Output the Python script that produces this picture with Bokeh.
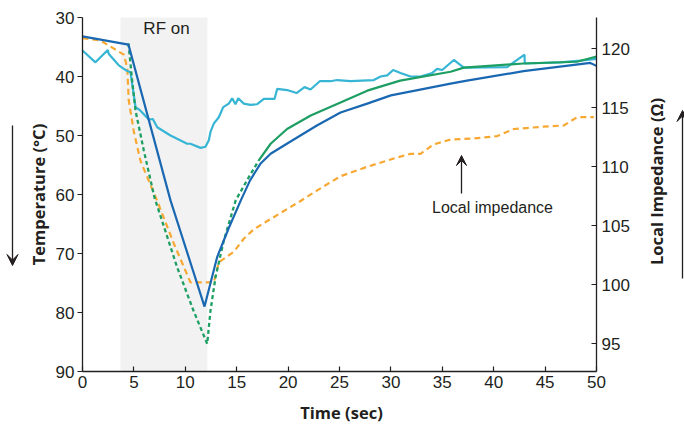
from math import pi
from bokeh.plotting import figure
from bokeh.models import Range1d, LinearAxis, FixedTicker, BoxAnnotation, Label, Arrow, VeeHead
from bokeh.embed import file_html
from bokeh.resources import INLINE

# ---- data ----
x_ticks = [0, 5, 10, 15, 20, 25, 30, 35, 40, 45, 50]
temp_ticks = [30, 40, 50, 60, 70, 80, 90]
imp_ticks = [95, 100, 105, 110, 115, 120]

rf_on_start = 3.7
rf_on_end = 12.15

blue_t = [0, 4.47, 8.56, 11.87, 13.1, 14.2, 15.4, 16.3, 17.3, 18.3, 19.6, 21.2, 22.8,
          25.1, 27.7, 30.0, 32.6, 35.8, 37.4, 42.9, 49.4, 50.0]
blue_temp = [33.2, 34.6, 61.0, 79.0, 70.6, 65.8, 61.0, 57.6, 54.8, 53.1, 51.7, 50.0, 48.3,
             46.1, 44.6, 43.2, 42.3, 41.2, 40.7, 39.1, 37.7, 38.2]

green_dash_t = [4.47, 4.83, 5.16, 5.96, 7.0, 9.2, 10.8, 12.13, 12.45, 12.94, 13.75, 14.9, 16.0, 17.15]
green_dash_temp = [34.4, 40.7, 45.8, 52.5, 60.5, 72.3, 79.7, 85.3, 79.7, 74.0, 67.8, 61.0, 57.6, 54.2]

green_t = [17.15, 18.3, 19.9, 22.2, 25.1, 27.7, 30.9, 35.8, 37.1, 42.9, 48.1, 50.0]
green_temp = [54.2, 51.4, 48.9, 46.6, 44.4, 42.4, 40.7, 39.2, 38.5, 37.8, 37.5, 36.6]

cyan_t = [0, 1.26, 2.46, 2.56, 3.53, 4.28, 4.67, 5.16, 5.64, 6.45, 6.84, 7.27, 8.56, 10.18,
          10.5, 11.48, 11.96, 12.29, 12.45, 12.77, 13.26, 13.69, 14.23, 14.56, 14.88, 15.15,
          15.69, 16.34, 16.99, 17.64, 18.68, 18.94, 19.91, 20.82, 21.6, 22.18, 23.08, 24.12,
          24.78, 26.07, 28.34, 28.99, 29.64, 30.22, 30.93, 31.91, 32.88, 34.02, 34.5, 34.99,
          36.12, 37.09, 41.31, 43.0, 43.02, 46.5, 48.4, 50.0]
cyan_temp = [35.6, 37.6, 35.5, 36.2, 38.1, 39.0, 39.3, 45.2, 45.8, 47.3, 47.2, 48.6, 50.0, 51.4,
             51.4, 52.1, 51.9, 50.8, 49.4, 48.0, 46.9, 45.2, 44.6, 43.7, 44.7, 43.7,
             44.6, 44.8, 44.7, 43.8, 43.8, 42.1, 42.3, 42.8, 41.8, 42.2, 40.8, 40.8,
             40.6, 40.8, 40.6, 40.0, 39.8, 38.9, 39.4, 40.0, 40.0, 39.4, 38.7, 38.9,
             37.2, 38.5, 38.4, 36.3, 37.8, 37.6, 37.3, 37.0]

imp_t = [0, 1.75, 4.02, 4.35, 4.5, 4.99, 5.64, 7.27, 8.88, 10.5, 12.77, 13.26, 14.72, 15.69,
         16.66, 17.97, 21.21, 22.83, 25.1, 27.69, 30.28, 31.91, 32.88, 34.17, 35.8, 38.06,
         40.34, 41.96, 44.87, 46.82, 48.12, 49.74]
imp_ohm = [120.9, 120.7, 119.5, 118.4, 115.6, 113.0, 110.5, 107.1, 103.5, 100.2, 100.2, 101.9,
           102.8, 103.9, 104.7, 105.4, 107.1, 108.0, 109.2, 110.0, 110.7, 111.1, 111.1, 111.9,
           112.3, 112.4, 112.6, 113.2, 113.4, 113.5, 114.2, 114.2]

t_min, t_max = 0, 50
temp_min, temp_max = 30, 90
imp_min, imp_max = 92.65, 122.65

# ---- figure: frame covers the canvas, axes pinned with fixed_location ----
W, H = 684, 430
L, R, T, B = 82, 596, 17, 371          # pixel box of the plotting area
sx = (R - L) / (t_max - t_min)
sy = (B - T) / (temp_max - temp_min)
si = (B - T) / (imp_max - imp_min)

TXT = "#231f20"
p = figure(width=W, height=H, output_backend="svg", toolbar_location=None,
           x_axis_location=None, y_axis_location=None,
           x_range=Range1d(t_min - L / sx, t_max + (W - R) / sx),
           y_range=Range1d(temp_max + (H - B) / sy, temp_min - T / sy),
           min_border=0)
p.min_border_left = p.min_border_right = p.min_border_top = p.min_border_bottom = 0
p.outline_line_color = None
p.grid.visible = False
p.background_fill_color = "white"
p.border_fill_color = "white"
p.extra_y_ranges = {"imp": Range1d(imp_min - (H - B) / si, imp_max + T / si)}

tick_font = "Liberation Sans"


def style(ax, tin, tout, standoff):
    ax.axis_line_color = TXT
    ax.axis_line_width = 1.3
    ax.major_tick_line_color = TXT
    ax.major_tick_line_width = 1.2
    ax.minor_tick_line_color = None
    ax.major_tick_in = tin
    ax.major_tick_out = tout
    ax.major_label_standoff = standoff
    ax.major_label_text_font = tick_font
    ax.major_label_text_font_size = "17px"
    ax.major_label_text_color = TXT


xax = LinearAxis(ticker=FixedTicker(ticks=x_ticks), fixed_location=temp_max,
                 bounds=(t_min, t_max))
style(xax, 5, 0, 4)
p.add_layout(xax, "below")

lax = LinearAxis(ticker=FixedTicker(ticks=temp_ticks), fixed_location=t_min,
                 bounds=(temp_min, temp_max))
style(lax, 0, 5, 3)
p.add_layout(lax, "left")

rax = LinearAxis(y_range_name="imp", ticker=FixedTicker(ticks=imp_ticks), fixed_location=t_max,
                 bounds=(imp_min, imp_max))
style(rax, 5, 0, 5)
p.add_layout(rax, "right")

# RF on band
p.add_layout(BoxAnnotation(left=rf_on_start, right=rf_on_end, top=temp_min, bottom=temp_max,
                           fill_color="#f2f2f2", fill_alpha=1.0, line_color=None,
                           level="underlay"))

# lines
p.line(imp_t, imp_ohm, y_range_name="imp", color="#f7a833", line_width=2.2, line_dash="6 4")
p.line(cyan_t, cyan_temp, color="#37b5d4", line_width=2.2)
p.line(green_dash_t, green_dash_temp, color="#1d9e63", line_width=2.3, line_dash="4 3")
p.line(green_t, green_temp, color="#1d9e63", line_width=2.2)
p.line(blue_t, blue_temp, color="#1a68b2", line_width=2.2)


def px_t(x):
    return t_min + (x - L) / sx


def px_temp(y):
    return temp_min + (y - T) / sy


# texts
p.add_layout(Label(x=px_t(166), y=px_temp(28), text="RF on", text_font=tick_font,
                   text_font_size="17px", text_color=TXT, text_align="center",
                   text_baseline="middle"))
p.add_layout(Label(x=px_t(492), y=px_temp(207), text="Local impedance", text_font=tick_font,
                   text_font_size="16px", text_color=TXT, text_align="center",
                   text_baseline="middle"))
p.add_layout(Arrow(x_start=px_t(461), y_start=px_temp(193), x_end=px_t(461), y_end=px_temp(155),
                   line_color=TXT, line_width=1.3,
                   end=VeeHead(size=10, fill_color=TXT, line_color=TXT)))

lab_font = "Open Sans"
p.add_layout(Label(x=px_t(38), y=px_temp(194), text="Temperature (°C)", angle=pi / 2,
                   text_font=lab_font, text_font_style="bold", text_font_size="16.5px",
                   text_color=TXT, text_align="center", text_baseline="middle"))
p.add_layout(Label(x=px_t(656), y=px_temp(181), text="Local Impedance (Ω)", angle=pi / 2,
                   text_font=lab_font, text_font_style="bold", text_font_size="16.5px",
                   text_color=TXT, text_align="center", text_baseline="middle"))
p.add_layout(Label(x=px_t(341), y=px_temp(412), text="Time (sec)",
                   text_font=lab_font, text_font_style="bold", text_font_size="16.5px",
                   text_color=TXT, text_align="center", text_baseline="middle"))

p.add_layout(Arrow(x_start=px_t(12), y_start=px_temp(125), x_end=px_t(12), y_end=px_temp(265),
                   line_color=TXT, line_width=1.3,
                   end=VeeHead(size=11, fill_color=TXT, line_color=TXT)))
p.add_layout(Arrow(x_start=px_t(682), y_start=px_temp(278), x_end=px_t(682), y_end=px_temp(110),
                   line_color=TXT, line_width=1.3,
                   end=VeeHead(size=11, fill_color=TXT, line_color=TXT)))

open("out.html", "w").write(file_html(p, INLINE))
